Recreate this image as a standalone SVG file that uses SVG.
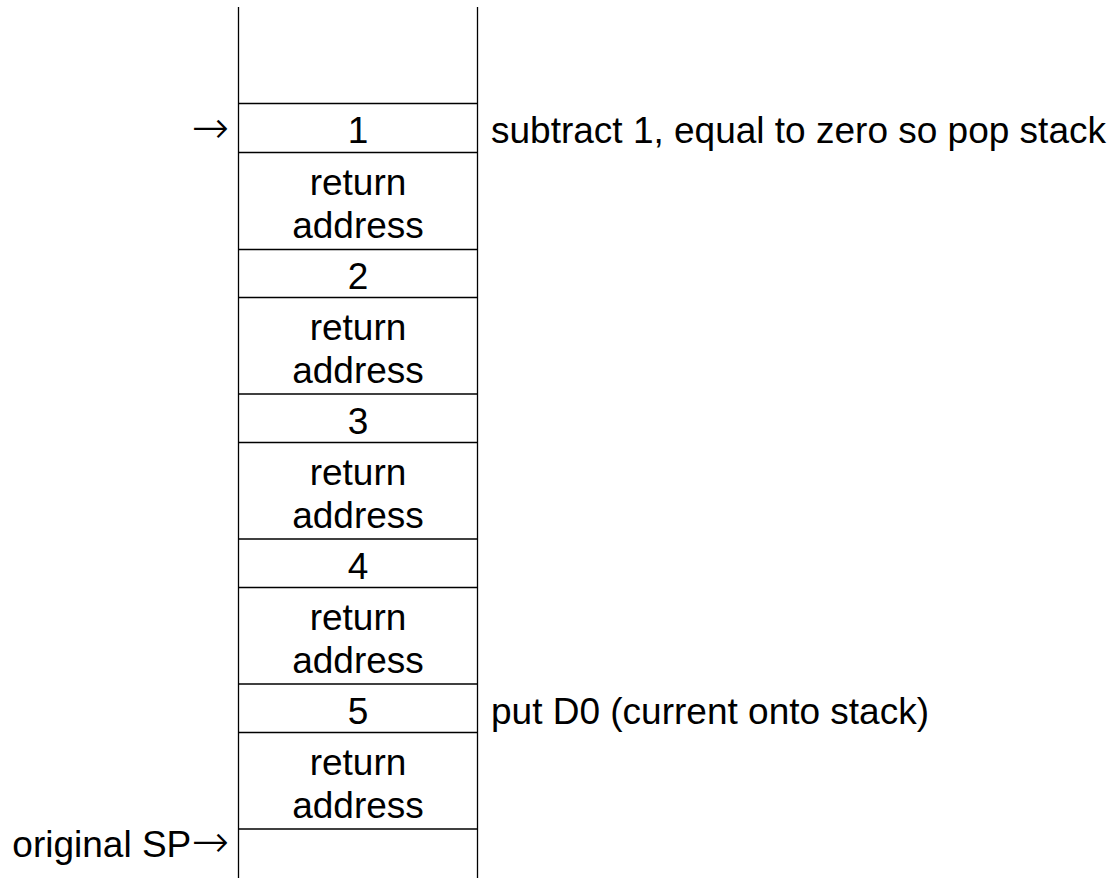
<svg xmlns="http://www.w3.org/2000/svg" width="1118" height="878" viewBox="0 0 1118 878">
  <style>
    .cell { stroke: #000; stroke-width: 1.3; fill: none; }
    .t { font-family: "Liberation Sans", Arial, Helvetica, sans-serif; font-size: 37px; fill: #000; }
    .arr { font-family: "DejaVu Sans", sans-serif; font-size: 45px; font-weight: 200; }
    .c { text-anchor: middle; }
    .e { text-anchor: end; }
  </style>
  <rect width="1118" height="878" fill="#fff"/>

  <!-- stack column walls -->
  <g id="stack-frame">
    <line class="cell" x1="238.5" y1="7" x2="238.5" y2="878"/>
    <line class="cell" x1="477.5" y1="7" x2="477.5" y2="878"/>
  </g>

  <!-- cell dividers -->
  <g id="dividers">
    <line class="cell" x1="238" y1="103.5" x2="478" y2="103.5"/>
    <line class="cell" x1="238" y1="152.5" x2="478" y2="152.5"/>
    <line class="cell" x1="238" y1="249.5" x2="478" y2="249.5"/>
    <line class="cell" x1="238" y1="297.5" x2="478" y2="297.5"/>
    <line class="cell" x1="238" y1="394" x2="478" y2="394"/>
    <line class="cell" x1="238" y1="442.5" x2="478" y2="442.5"/>
    <line class="cell" x1="238" y1="539" x2="478" y2="539"/>
    <line class="cell" x1="238" y1="587.5" x2="478" y2="587.5"/>
    <line class="cell" x1="238" y1="684" x2="478" y2="684"/>
    <line class="cell" x1="238" y1="732.5" x2="478" y2="732.5"/>
    <line class="cell" x1="238" y1="829" x2="478" y2="829"/>
  </g>

  <!-- stack entries -->
  <g id="cell-1"><text class="t c" x="358" y="143">1</text></g>
  <g id="ret-1"><text class="t c" x="358" y="195">return</text><text class="t c" x="358" y="238">address</text></g>
  <g id="cell-2"><text class="t c" x="358" y="289">2</text></g>
  <g id="ret-2"><text class="t c" x="358" y="340">return</text><text class="t c" x="358" y="383">address</text></g>
  <g id="cell-3"><text class="t c" x="358" y="434">3</text></g>
  <g id="ret-3"><text class="t c" x="358" y="485">return</text><text class="t c" x="358" y="528">address</text></g>
  <g id="cell-4"><text class="t c" x="358" y="579">4</text></g>
  <g id="ret-4"><text class="t c" x="358" y="630">return</text><text class="t c" x="358" y="673">address</text></g>
  <g id="cell-5"><text class="t c" x="358" y="724">5</text></g>
  <g id="ret-5"><text class="t c" x="358" y="775">return</text><text class="t c" x="358" y="818">address</text></g>

  <!-- pointers and notes -->
  <g id="sp-pointer"><text class="t e" x="229" y="143"><tspan class="arr">→</tspan></text></g>
  <g id="orig-sp"><text class="t e" x="229" y="857">original SP<tspan class="arr">→</tspan></text></g>
  <g id="note-pop"><text class="t" x="491" y="143">subtract 1, equal to zero so pop stack</text></g>
  <g id="note-push"><text class="t" x="491" y="724">put D0 (current onto stack)</text></g>
</svg>
